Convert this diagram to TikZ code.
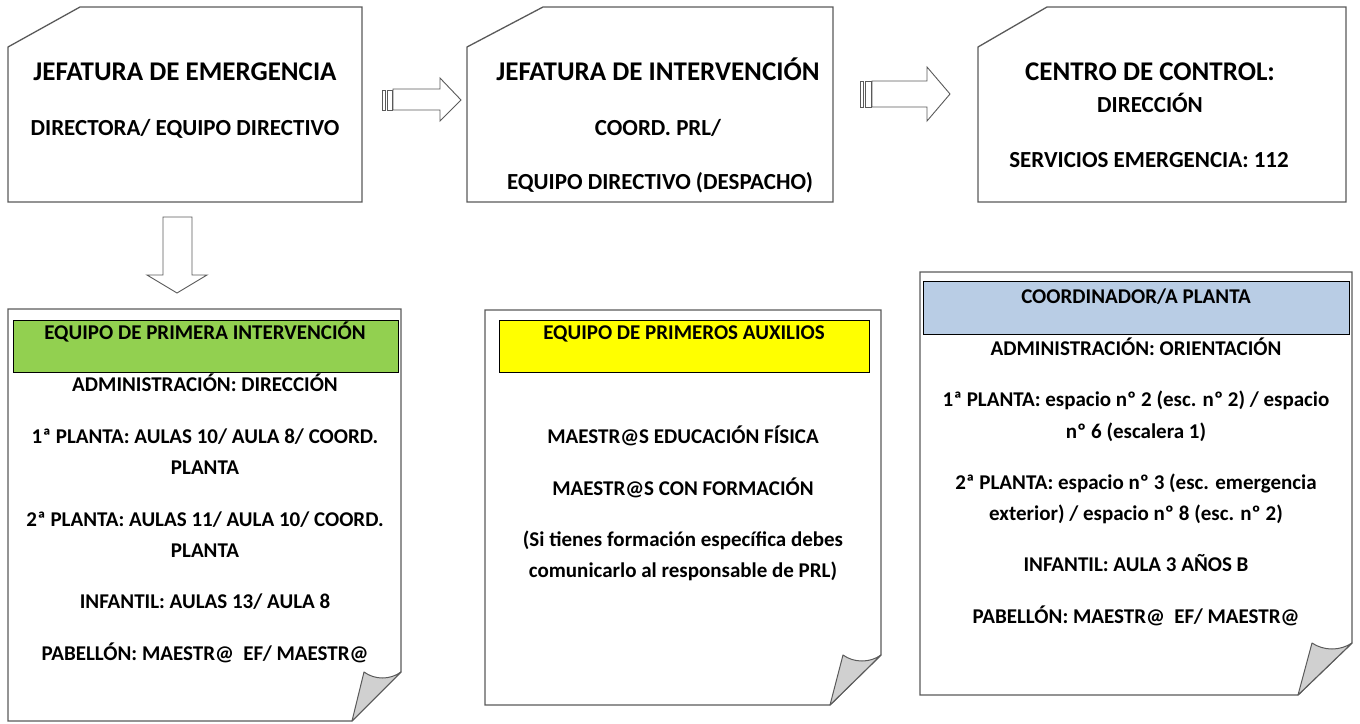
\documentclass[tikz,border=0pt]{standalone}
\usepackage{fontspec}
\setmainfont{Carlito}
\usetikzlibrary{calc}

\definecolor{epigreen}{HTML}{92D050}
\definecolor{epayellow}{HTML}{FFFF00}
\definecolor{coordblue}{HTML}{B9CDE5}
\definecolor{edgegray}{HTML}{5A5A5A}
\definecolor{flapgray}{HTML}{D0D0D0}

\tikzset{
    panel/.style={inner sep=0pt, outer sep=0pt},
    outline/.style={draw=edgegray, line width=1.3pt, fill=white, line join=miter},
    header/.style={draw=black, line width=1pt, inner sep=0pt, outer sep=0pt},
    title/.style={font=\fontsize{27}{31}\selectfont\bfseries, anchor=base, inner sep=0pt},
    sub/.style={font=\fontsize{23}{27}\selectfont\bfseries, anchor=base, inner sep=0pt},
    body/.style={font=\fontsize{21}{25}\selectfont\bfseries, anchor=base, inner sep=0pt},
    blockarrow/.style={draw=edgegray, line width=0.9pt, fill=white},
    flap/.style={draw=edgegray, line width=1pt, fill=flapgray, line join=round},
}

\begin{document}
\begin{tikzpicture}[x=1pt, y=-1pt]
    \useasboundingbox (0,0) rectangle (1360,723);

    % top row
    \node[panel, minimum width=354pt, minimum height=195pt] (jefem) at (185,104.5) {};
    \node[panel, minimum width=366pt, minimum height=195pt] (jefint) at (650,104.5) {};
    \node[panel, minimum width=368pt, minimum height=195pt] (control) at (1162,104.5) {};

    \draw[outline] ([xshift=72pt]jefem.north west) -- (jefem.north east) -- (jefem.south east)
        -- (jefem.south west) -- ([yshift=-40pt]jefem.north west) -- cycle;
    \draw[outline] ([xshift=76pt]jefint.north west) -- (jefint.north east) -- (jefint.south east)
        -- (jefint.south west) -- ([yshift=-40pt]jefint.north west) -- cycle;
    \draw[outline] ([xshift=69pt]control.north west) -- (control.north east) -- (control.south east)
        -- (control.south west) -- ([yshift=-40pt]control.north west) -- cycle;

    \node[title] (jefemT) at (185,80.5) {JEFATURA DE EMERGENCIA};
    \node[sub] (jefemS) at (185,135.3) {DIRECTORA/ EQUIPO DIRECTIVO};

    \node[title] (jefintT) at (658,80.5) {JEFATURA DE INTERVENCIÓN};
    \node[sub] (jefintS) at (658,135.3) {COORD. PRL/};
    \node[sub] (jefintD) at (660,189.3) {EQUIPO DIRECTIVO (DESPACHO)};

    \node[title] (controlT) at (1150,80.5) {CENTRO DE CONTROL:};
    \node[sub] (controlS) at (1150,112.3) {DIRECCIÓN};
    \node[sub] (controlE) at (1149,167.3) {SERVICIOS EMERGENCIA: 112};

    % block arrows
    \draw[blockarrow] (382,90) rectangle (385,110);
    \draw[blockarrow] (387,90) rectangle (392,110);
    \draw[blockarrow] (393,89) -- (440,89) -- (440,78) -- (461,100) -- (440,121)
        -- (440,110) -- (393,110) -- cycle;

    \draw[blockarrow] (860,81) rectangle (863,107);
    \draw[blockarrow] (865,81) rectangle (871,107);
    \draw[blockarrow] (872,81) -- (927,81) -- (927,67) -- (950,94) -- (927,121)
        -- (927,107) -- (872,107) -- cycle;

    \draw[blockarrow] (163,217) -- (192,217) -- (192,275) -- (207,275) -- (177,293)
        -- (147,275) -- (163,275) -- cycle;

    % bottom row
    \node[panel, minimum width=393pt, minimum height=412pt] (epi) at (204.5,515) {};
    \node[panel, minimum width=396pt, minimum height=395pt] (epa) at (683,507.5) {};
    \node[panel, minimum width=432pt, minimum height=423pt] (coord) at (1136,483.5) {};

    \draw[outline] (epi.north west) -- (epi.north east) -- ([yshift=49pt]epi.south east)
        -- ([xshift=-49pt]epi.south east) -- (epi.south west) -- cycle;
    \draw[flap] ([xshift=-49pt]epi.south east) -- ([xshift=-37pt,yshift=49pt]epi.south east)
        .. controls ([xshift=-26pt,yshift=41pt]epi.south east) and ([xshift=-11pt,yshift=41pt]epi.south east)
        .. ([yshift=49pt]epi.south east) -- cycle;

    \draw[outline] (epa.north west) -- (epa.north east) -- ([yshift=50pt]epa.south east)
        -- ([xshift=-51pt]epa.south east) -- (epa.south west) -- cycle;
    \draw[flap] ([xshift=-51pt]epa.south east) -- ([xshift=-38pt,yshift=50pt]epa.south east)
        .. controls ([xshift=-27pt,yshift=42pt]epa.south east) and ([xshift=-11pt,yshift=42pt]epa.south east)
        .. ([yshift=50pt]epa.south east) -- cycle;

    \draw[outline] (coord.north west) -- (coord.north east) -- ([yshift=52pt]coord.south east)
        -- ([xshift=-54pt]coord.south east) -- (coord.south west) -- cycle;
    \draw[flap] ([xshift=-54pt]coord.south east) -- ([xshift=-40pt,yshift=52pt]coord.south east)
        .. controls ([xshift=-28pt,yshift=44pt]coord.south east) and ([xshift=-12pt,yshift=44pt]coord.south east)
        .. ([yshift=52pt]coord.south east) -- cycle;

    % headers
    \node[header, fill=epigreen, minimum width=385pt, minimum height=52pt] (epiH) at (205.5,346) {};
    \node[header, fill=epayellow, minimum width=370pt, minimum height=52pt] (epaH) at (684,346) {};
    \node[header, fill=coordblue, minimum width=426pt, minimum height=53pt] (coordH) at (1136,307.5) {};

    \node[body] (epiT) at (205,339.6) {EQUIPO DE PRIMERA INTERVENCIÓN};
    \node[body] (epaT) at (684,339.6) {EQUIPO DE PRIMEROS AUXILIOS};
    \node[body] (coordT) at (1136,303.6) {COORDINADOR/A PLANTA};

    % first intervention team
    \node[body] (epi1) at (205,391.6) {ADMINISTRACIÓN: DIRECCIÓN};
    \node[body] (epi2) at (205,443.6) {1ª PLANTA: AULAS 10/ AULA 8/ COORD.};
    \node[body] (epi3) at (205,474.6) {PLANTA};
    \node[body] (epi4) at (205,526.6) {2ª PLANTA: AULAS 11/ AULA 10/ COORD.};
    \node[body] (epi5) at (205,557.6) {PLANTA};
    \node[body] (epi6) at (205,608.6) {INFANTIL: AULAS 13/ AULA 8};
    \node[body] (epi7) at (205,660.6) {PABELLÓN: MAESTR@\ \ EF/ MAESTR@};

    % first aid team
    \node[body] (epa1) at (683,443.6) {MAESTR@S EDUCACIÓN FÍSICA};
    \node[body] (epa2) at (683,495.6) {MAESTR@S CON FORMACIÓN};
    \node[body] (epa3) at (683,546.6) {(Si tienes formación específica debes};
    \node[body] (epa4) at (683,577.6) {comunicarlo al responsable de PRL)};

    % floor coordinator
    \node[body] (coord1) at (1136,355.6) {ADMINISTRACIÓN: ORIENTACIÓN};
    \node[body] (coord2) at (1136,406.6) {1ª PLANTA: espacio nº 2 (esc. nº 2) / espacio};
    \node[body] (coord3) at (1136,438.6) {nº 6 (escalera 1)};
    \node[body] (coord4) at (1136,489.6) {2ª PLANTA: espacio nº 3 (esc. emergencia};
    \node[body] (coord5) at (1136,520.6) {exterior) / espacio nº 8 (esc. nº 2)};
    \node[body] (coord6) at (1136,571.6) {INFANTIL: AULA 3 AÑOS B};
    \node[body] (coord7) at (1136,623.6) {PABELLÓN: MAESTR@\ \ EF/ MAESTR@};
\end{tikzpicture}
\end{document}
